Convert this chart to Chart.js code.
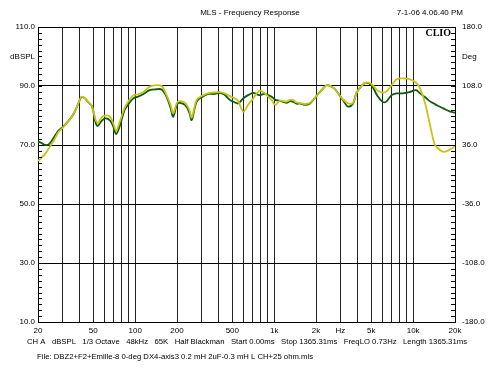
<!DOCTYPE html>
<html><head><meta charset="utf-8">
<script src="https://cdn.jsdelivr.net/npm/chart.js@4.4.1/dist/chart.umd.min.js"></script>
<style>html,body{margin:0;padding:0;background:#fff}</style>
</head><body>
<canvas id="c" width="500" height="375"></canvas>
<script>
// Frequencies (Hz) at which the curves were read
const freqs = [20,21,22.5,24,26,28,30,33,36,39,41,43,46,49,52,54,57,61,66,70,73,77,84,90,97,105,115,127,142,155,168,180,188,203,228,245,255,277,301,336,370,406,440,479,520,550,600,649,707,782,847,955,1020,1100,1230,1300,1360,1450,1530,1660,1810,2000,2250,2400,2700,3000,3200,3400,3700,3900,4300,4600,5000,5500,6000,6400,7000,7600,8400,9400,10500,11200,12200,13300,14200,14800,16500,18500,20000];
// Channel 1 (dark green) SPL in dB
const splGreen = [71.2,70.8,70.0,70.3,72.5,74.8,76.0,78.0,80.5,84.0,86.2,86.0,84.5,83.0,77.5,76.5,78.0,79.0,78.3,76.0,73.7,76.0,81.9,84.0,85.8,86.4,87.3,88.6,88.9,88.8,86.4,82.5,79.6,84.1,83.6,81.0,78.5,84.7,86.2,87.3,87.3,87.7,87.0,85.3,84.5,84.1,85.8,86.9,87.7,86.9,87.3,86.4,85.3,85.0,84.3,84.9,84.7,84.0,84.1,83.6,84.1,86.4,89.2,90.3,89.2,86.4,84.5,83.0,84.1,87.5,90.3,91.1,90.3,86.9,84.7,84.7,86.9,87.5,87.5,87.9,88.6,87.5,86.2,84.7,84.0,83.5,82.4,81.3,81.0];
// Channel 2 (yellow) SPL in dB
const splYellow = [64.5,65.5,67.0,69.0,71.5,74.3,75.8,78.0,80.5,84.0,86.3,86.0,84.6,83.0,78.5,77.5,79.2,80.0,79.5,77.0,74.8,77.5,82.6,85.0,86.8,87.2,88.0,89.8,90.3,90.0,87.0,83.5,80.8,84.7,84.3,82.0,79.3,85.3,86.6,87.6,87.8,87.9,87.5,86.6,85.8,85.0,81.3,83.6,85.8,88.4,87.7,85.3,83.6,85.0,84.7,85.3,85.3,84.4,84.2,83.9,84.3,86.4,89.2,90.3,89.2,86.4,85.0,84.1,84.3,87.5,90.3,91.1,90.7,88.6,87.8,88.1,90.3,92.3,92.6,92.3,91.1,89.2,84.1,76.2,70.6,69.2,67.7,68.5,69.6];
// Vertical grid positions (Hz) and the ones that carry a label
const xGridValues = [20,30,40,50,60,70,80,90,100,200,300,400,500,600,700,800,900,1000,2000,3000,4000,5000,6000,7000,8000,9000,10000,20000];
const xLabelValues = [20,50,100,200,500,1000,2000,3000,5000,10000,20000];
const xLabelTexts = ['20','50','100','200','500','1k','2k','Hz','5k','10k','20k'];
// Left axis (dBSPL) and right axis (Deg)
const ySplMin = 10, ySplMax = 110, ySplMajor = 20;
const yDegMin = -180, yDegMax = 180, yDegMajor = 72;
const titleText = 'MLS - Frequency Response';
const dateText = '7-1-06 4.06.40 PM';
const brandText = 'CLIO';
const infoLine1 = 'CH A   dBSPL   1/3 Octave   48kHz   65K   Half Blackman   Start 0.00ms   Stop 1365.31ms   FreqLO 0.73Hz   Length 1365.31ms';
const infoLine2 = 'File: DBZ2+F2+Emille-8 0-deg DX4-axis3 0.2 mH 2uF-0.3 mH L CH+25 ohm.mls';

const FONT = '"Liberation Sans", Arial, sans-serif';
const toPts = arr => freqs.map((f, i) => ({x: f, y: arr[i]}));

const deco = {
  id: 'deco',
  afterDraw(chart) {
    const ctx = chart.ctx, a = chart.chartArea, ys = chart.scales.y;
    ctx.save();
    ctx.strokeStyle = '#000'; ctx.lineWidth = 1;
    ctx.beginPath();
    for (let v = ySplMin; v <= ySplMax; v += 2) {
      const p = Math.round(ys.getPixelForValue(v)) + 0.5;
      ctx.moveTo(a.left, p); ctx.lineTo(a.left + 4, p);
      ctx.moveTo(a.right - 4, p); ctx.lineTo(a.right, p);
    }
    ctx.stroke();
    ctx.fillStyle = '#000';
    ctx.font = '8px ' + FONT;
    ctx.textBaseline = 'middle';
    ctx.textAlign = 'center';
    ctx.fillText(titleText, 250, 13);
    ctx.textAlign = 'right';
    ctx.fillText(dateText, 463, 13);
    ctx.textAlign = 'left';
    ctx.fillText(infoLine1, 27, 342, 440);
    ctx.fillText(infoLine2, 37, 357, 276);
    ctx.font = 'bold 10px "Liberation Serif", serif';
    ctx.textAlign = 'right';
    ctx.fillText(brandText, a.right - 4, 33);
    ctx.restore();
  }
};

new Chart(document.getElementById('c'), {
  type: 'line',
  data: {
    datasets: [
      {label: 'Yellow', data: toPts(splYellow), borderColor: '#c8c414', borderWidth: 1.8, pointRadius: 0, tension: 0.35, yAxisID: 'y', order: 0},
      {label: 'Green', data: toPts(splGreen), borderColor: '#0d5a10', borderWidth: 1.8, pointRadius: 0, tension: 0.35, yAxisID: 'y', order: 1}
    ]
  },
  options: {
    responsive: false, animation: false,
    layout: {padding: {top: 27, left: 0, right: 0, bottom: 0}},
    plugins: {legend: {display: false}, tooltip: {enabled: false}, title: {display: false}},
    scales: {
      x: {
        type: 'logarithmic', min: 20, max: 20000,
        afterBuildTicks: s => { s.ticks = xGridValues.map(v => ({value: v})); },
        afterFit: s => { s.height = 53; },
        ticks: {
          autoSkip: false, maxRotation: 0, padding: 4, color: '#000',
          font: {family: FONT, size: 8},
          callback: v => { const i = xLabelValues.indexOf(v); return i >= 0 ? xLabelTexts[i] : ''; }
        },
        grid: {color: '#222', lineWidth: 1, drawTicks: false},
        border: {color: '#000', width: 1}
      },
      y: {
        position: 'left', min: ySplMin, max: ySplMax,
        afterFit: s => { s.width = 38; },
        ticks: {
          stepSize: 10, padding: 3, color: '#000', font: {family: FONT, size: 8},
          callback: v => (v % ySplMajor === ySplMin % ySplMajor) ? v.toFixed(1) : (v === 100 ? 'dBSPL' : '')
        },
        grid: {drawTicks: false, lineWidth: 1, color: c => (c.tick && c.tick.value % ySplMajor === ySplMin % ySplMajor) ? '#000' : 'rgba(0,0,0,0)'},
        border: {color: '#000', width: 1}
      },
      y2: {
        position: 'right', min: yDegMin, max: yDegMax,
        afterFit: s => { s.width = 45; },
        ticks: {
          stepSize: 36, padding: 7, color: '#000', font: {family: FONT, size: 8},
          callback: v => ((v - yDegMin) % yDegMajor === 0) ? v.toFixed(1) : (v === 144 ? 'Deg' : '')
        },
        grid: {display: false, drawTicks: false},
        border: {color: '#000', width: 1}
      }
    }
  },
  plugins: [deco]
});
</script>
</body></html>
